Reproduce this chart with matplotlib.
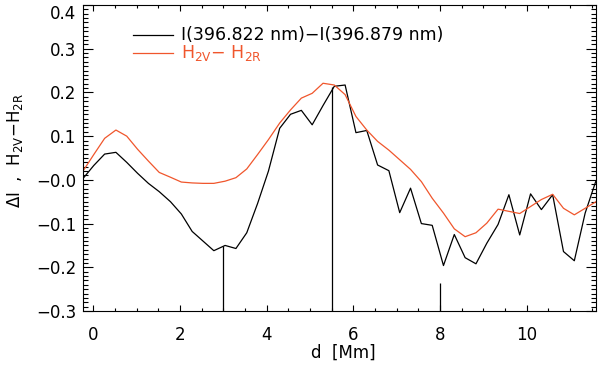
import matplotlib
matplotlib.use("Agg")
import matplotlib.pyplot as plt
from matplotlib.ticker import MultipleLocator

# sample positions along the slit [Mm]
d = [-0.24, 0.01, 0.26, 0.52, 0.77, 1.02, 1.27, 1.52, 1.78, 2.03,
     2.28, 2.53, 2.78, 3.04, 3.29, 3.54, 3.79, 4.04, 4.30, 4.55,
     4.80, 5.05, 5.30, 5.56, 5.81, 6.06, 6.31, 6.56, 6.82, 7.07,
     7.32, 7.57, 7.82, 8.08, 8.33, 8.58, 8.83, 9.08, 9.34, 9.59,
     9.84, 10.09, 10.34, 10.60, 10.85, 11.10, 11.35, 11.60]

# I(396.822 nm) - I(396.879 nm)
delta_i = [0.003, 0.033, 0.059, 0.063, 0.040, 0.015, -0.008, -0.027, -0.050, -0.078,
           -0.118, -0.140, -0.162, -0.150, -0.157, -0.121, -0.054, 0.020, 0.118, 0.150,
           0.159, 0.126, 0.170, 0.214, 0.217, 0.108, 0.113, 0.034, 0.021, -0.075,
           -0.019, -0.100, -0.104, -0.196, -0.125, -0.178, -0.192, -0.145, -0.102, -0.034,
           -0.126, -0.032, -0.068, -0.034, -0.164, -0.185, -0.076, -0.002]

# H2V - H2R
h2v_h2r = [0.020, 0.058, 0.095, 0.114, 0.100, 0.070, 0.043, 0.017, 0.006, -0.005,
           -0.007, -0.008, -0.008, -0.003, 0.005, 0.025, 0.058, 0.092, 0.130, 0.160,
           0.187, 0.198, 0.221, 0.217, 0.195, 0.145, 0.114, 0.088, 0.068, 0.046,
           0.024, -0.004, -0.042, -0.076, -0.112, -0.130, -0.121, -0.099, -0.067, -0.072,
           -0.077, -0.061, -0.045, -0.033, -0.065, -0.080, -0.065, -0.050]

# marker lines
mark_x = [3.0, 5.5, 8.0]
mark_top = [-0.152, 0.212, -0.235]

x_ticks = [0, 2, 4, 6, 8, 10]
y_ticks = [-0.3, -0.2, -0.1, 0.0, 0.1, 0.2, 0.3, 0.4]
y_ticklabels = ["\u22120.3", "\u22120.2", "\u22120.1", "\u22120.0", "0.1", "0.2", "0.3", "0.4"]

orange = "#f0562c"
plt.rcParams["font.family"] = "DejaVu Sans"
plt.rcParams["mathtext.fontset"] = "dejavusans"

fig = plt.figure(figsize=(6, 3.65), dpi=100)
ax = fig.add_axes([0.1383, 0.1479, 0.855, 0.8384])

ax.plot(d, delta_i, color="black", lw=0.9)
ax.plot(d, h2v_h2r, color=orange, lw=0.9)
ax.vlines(mark_x, -0.3, mark_top, color="black", lw=0.9)

ax.set_xlim(-0.24, 11.6)
ax.set_ylim(-0.3, 0.4)
ax.set_xticks(x_ticks)
ax.set_xticklabels([str(t) for t in x_ticks])
ax.set_yticks(y_ticks)
ax.set_yticklabels(y_ticklabels)
ax.xaxis.set_minor_locator(MultipleLocator(0.5))
ax.yaxis.set_minor_locator(MultipleLocator(0.01))

# IDL-like inward ticks on all four sides
ax.tick_params(which="both", direction="in", top=True, right=True, width=0.8, labelsize=12, colors="black")
ax.tick_params(axis="x", which="major", length=4.3, pad=10.5)
ax.tick_params(axis="x", which="minor", length=2.3)
ax.tick_params(axis="y", which="major", length=7.2, pad=5)
ax.tick_params(axis="y", which="minor", length=3.6)
for s in ax.spines.values():
    s.set_linewidth(0.8)

# top label sits just under the frame, as in the original
ax.get_yticklabels()[-1].set_va("top")

# legend drawn by hand
ax.plot([0.097, 0.176], [0.902, 0.902], color="black", lw=0.9, transform=ax.transAxes)
ax.text(0.192, 0.902, "I(396.822 nm)\u2212I(396.879 nm)", transform=ax.transAxes,
        fontsize=12.5, va="center", ha="left", color="black")
ax.plot([0.097, 0.176], [0.842, 0.842], color=orange, lw=0.9, transform=ax.transAxes)
ax.text(0.192, 0.842, r"H$_{\rm 2V}$$-$ H$_{\rm 2R}$", transform=ax.transAxes,
        fontsize=12.5, va="center", ha="left", color=orange)

# axis titles
fig.text(343.5 / 600, 1 - 353 / 365, "d  [Mm]", fontsize=12, ha="center", va="center")
fig.text(15 / 600, 1 - 150 / 365, r"$\Delta$I  ,  H$_{\rm 2V}$$-$H$_{\rm 2R}$",
         fontsize=12, ha="center", va="center", rotation=90)

fig.savefig("out.png", dpi=100)
